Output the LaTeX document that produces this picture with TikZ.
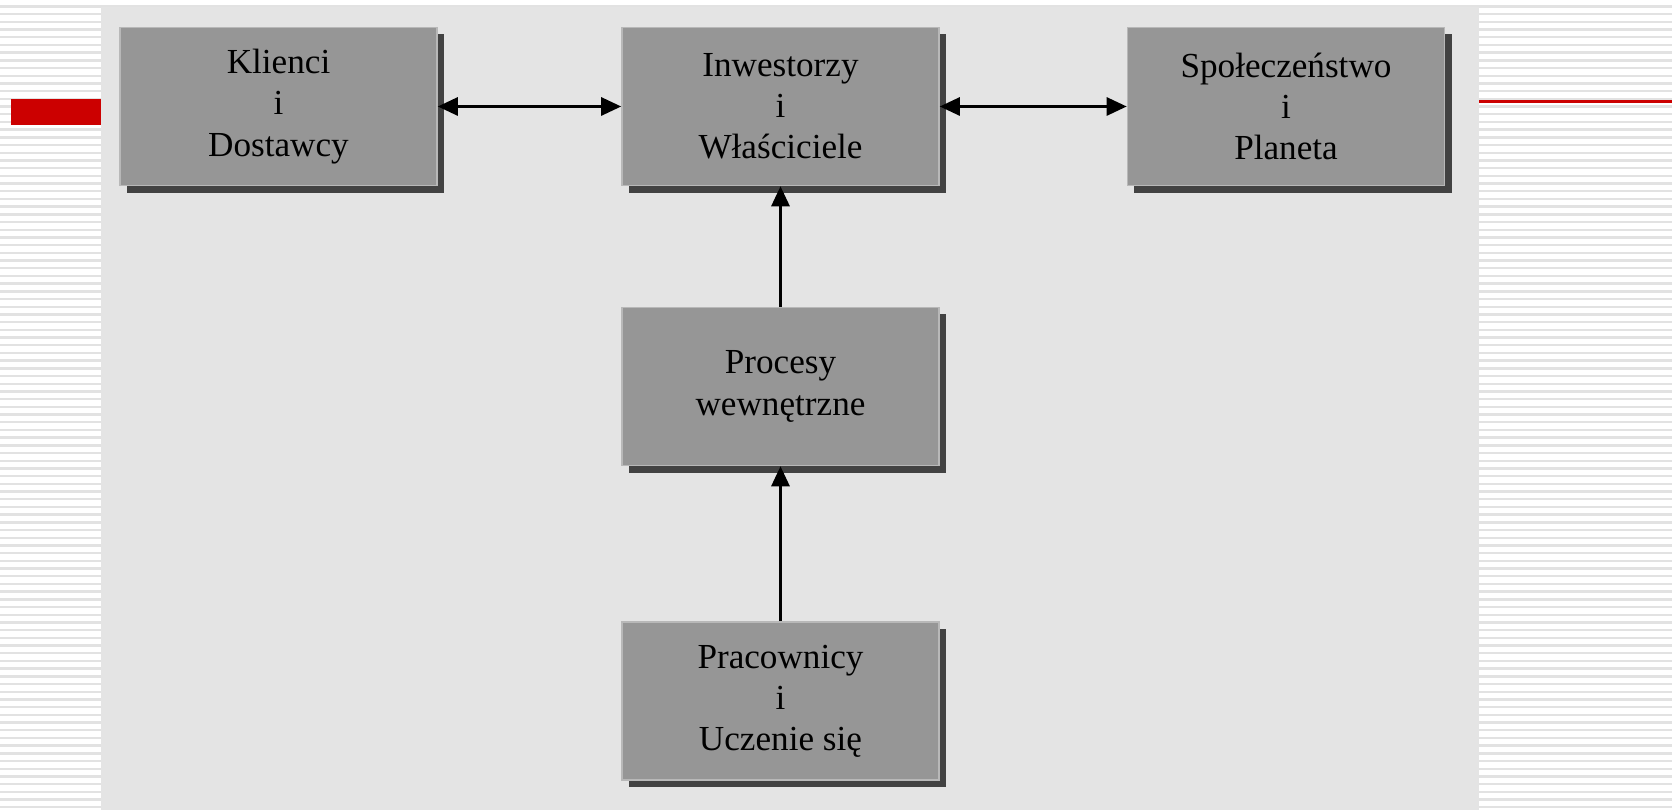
\documentclass[tikz,border=0pt]{standalone}
\usepackage{fontspec}
\setmainfont{Liberation Serif}
\usetikzlibrary{arrows.meta,shadows}
\definecolor{panelgray}{HTML}{E4E4E4}
\definecolor{boxgray}{HTML}{969696}
\definecolor{shadowgray}{HTML}{424242}
\definecolor{stripegray}{HTML}{E2E2E2}
\definecolor{edgegray}{HTML}{B8B8B8}
\definecolor{barred}{HTML}{CC0000}

\begin{document}
\begin{tikzpicture}[x=0.01cm,y=-0.01cm,
        box/.style={shape=rectangle,fill=boxgray,draw=edgegray,line width=0.4pt,
            minimum width=3.17cm,minimum height=1.58cm,align=center,
            font=\fontsize{10}{11.7}\selectfont,
            general shadow={fill=shadowgray,shadow xshift=0.07cm,shadow yshift=-0.07cm}},
        link/.style={line width=0.8pt},
        >={Triangle[length=0.2cm,width=0.18cm]}]
        % background
        \useasboundingbox (0,0) rectangle (1672,810);
        \fill[white] (0,0) rectangle (1672,810);
        \foreach \k in {0,...,105}
            \fill[stripegray] (0,5.3+7.7*\k) rectangle (1672,7.7+7.7*\k);
        \fill[panelgray] (101,7) rectangle (1479,810);
        \fill[barred] (11,99) rectangle (101,125);
        \fill[barred] (1479,100) rectangle (1672,103);

        \node[box] (klienci) at (278.5,106.5) {Klienci\\i\\Dostawcy};
        \node[box] (inwestorzy) at (780.5,106.5) {Inwestorzy\\i\\Właściciele};
        \node[box] (spoleczenstwo) at (1286,106.5) {Społeczeństwo\\i\\Planeta};
        \node[box] (procesy) at (780.5,386.5) {Procesy\\wewnętrzne};
        \node[box] (pracownicy) at (780.5,701) {Pracownicy\\i\\Uczenie się};

        \path [link,<->] (klienci) edge (inwestorzy);
        \path [link,<->] (inwestorzy) edge (spoleczenstwo);
        \path [link,->] (procesy) edge (inwestorzy);
        \path [link,->] (pracownicy) edge (procesy);
    \end{tikzpicture}
\end{document}
